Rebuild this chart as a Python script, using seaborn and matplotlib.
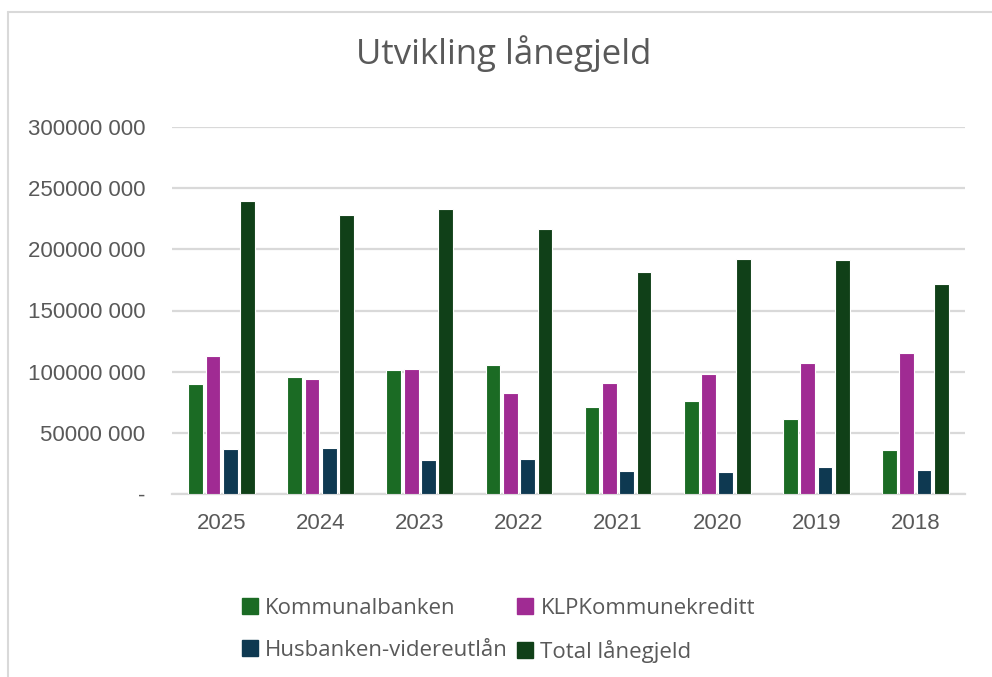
import numpy as np
import pandas as pd
import matplotlib.pyplot as plt
import seaborn as sns
from matplotlib.lines import Line2D
from matplotlib.ticker import FuncFormatter

# data (in NOK)
years = ['2025', '2024', '2023', '2022', '2021', '2020', '2019', '2018']
kommunalbanken = [89.8e6, 95.6e6, 101.1e6, 105.2e6, 71.1e6, 75.8e6, 61.6e6, 36.3e6]
klp = [112.7e6, 93.7e6, 102.4e6, 82.3e6, 90.5e6, 98.1e6, 106.9e6, 115.3e6]
husbanken = [36.6e6, 37.6e6, 27.8e6, 28.3e6, 18.8e6, 17.7e6, 22.1e6, 19.4e6]
total = [239.5e6, 227.8e6, 232.7e6, 216.9e6, 181.5e6, 192.4e6, 191.2e6, 171.7e6]

series = ['Kommunalbanken', 'KLPKommunekreditt', 'Husbanken-videreutlån', 'Total lånegjeld']
colors = ['#1B6B24', '#A02B93', '#0E3951', '#104018']

df = pd.DataFrame({'year': years, series[0]: kommunalbanken, series[1]: klp,
                   series[2]: husbanken, series[3]: total})
df_long = df.melt(id_vars='year', var_name='serie', value_name='value')

sns.set_style("white")
plt.rcParams['font.family'] = ['Liberation Sans', 'DejaVu Sans']
grey = '#595959'

fig = plt.figure(figsize=(9.92, 6.77), dpi=100)
ax = fig.add_axes([172/992, 1-494/677, (965-172)/992, (494-127)/677])

sns.barplot(data=df_long, x='year', y='value', hue='serie', order=years,
            hue_order=series, palette=colors, saturation=1, width=0.7, gap=0.15,
            edgecolor='white', linewidth=0.8, ax=ax, legend=False, zorder=3)

ax.set_ylim(0, 300e6)
ax.set_xlim(-0.5, 7.5)
ax.set_yticks(np.arange(0, 300e6 + 1, 50e6))
ax.yaxis.set_major_formatter(FuncFormatter(
    lambda v, p: '-' if v == 0 else f"{int(v // 1000)} {int(v % 1000):03d}"))
ax.grid(axis='y', color='#D9D9D9', linewidth=1.6, zorder=0)
ax.set_axisbelow(True)
for s in ['top', 'right', 'left']:
    ax.spines[s].set_visible(False)
ax.spines['bottom'].set_color('#D9D9D9')
ax.spines['bottom'].set_linewidth(1.6)
ax.tick_params(axis='both', length=0, labelsize=16, colors=grey)
ax.tick_params(axis='y', pad=19)
ax.tick_params(axis='x', pad=14)
ax.set_xlabel('')
ax.set_ylabel('')

fig.text(0.508, 1-54/677, 'Utvikling lånegjeld', ha='center', va='center',
         fontsize=25, color=grey, family=['Open Sans', 'DejaVu Sans'])

# legend in row order: Kommunal, KLP / Husbanken, Total
handles = [Line2D([], [], marker='s', linestyle='', markersize=11,
                  markerfacecolor=c, markeredgecolor=c) for c in colors]
order = [0, 2, 1, 3]
leg = fig.legend([handles[i] for i in order], [series[i] for i in order],
                 ncol=2, loc='upper left', bbox_to_anchor=(222/992, 1-578/677),
                 frameon=False, handlelength=0.75, handletextpad=0.3,
                 columnspacing=0.4, labelspacing=0.95,
                 prop={'family': 'Open Sans', 'size': 16})
for t in leg.get_texts():
    t.set_color(grey)

# chart area border (top and left visible)
fig.add_artist(Line2D([8/992, 1], [1-12/677, 1-12/677], color='#D9D9D9', lw=1.5,
                      transform=fig.transFigure))
fig.add_artist(Line2D([8/992, 8/992], [0, 1-12/677], color='#D9D9D9', lw=1.5,
                      transform=fig.transFigure))

fig.savefig('out.png', dpi=100)
